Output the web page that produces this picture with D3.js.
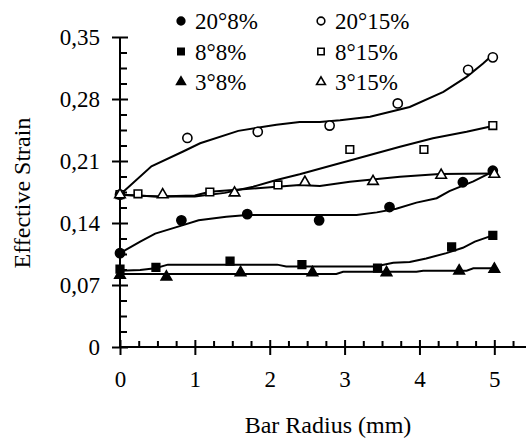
<!DOCTYPE html>
<html>
<head>
<meta charset="utf-8">
<script src="https://cdnjs.cloudflare.com/ajax/libs/d3/7.8.5/d3.min.js"></script>
</head>
<body style="margin:0; background:#fff">
<script>
// Width and height
var w = 526;
var h = 439;
var serif = "'Liberation Serif'";

// Series names and marker types
var seriesNames = ["20°8%", "20°15%", "8°8%", "8°15%", "3°8%", "3°15%"];
var seriesShape = ["circle", "circle", "square", "square", "triangle", "triangle"];
var seriesFilled = [true, false, true, false, true, false];

// Measured points [radius mm, strain]
var pts20_8 = [[0, 0.106], [0.82, 0.143], [1.70, 0.150], [2.66, 0.143], [3.60, 0.158], [4.58, 0.186], [4.98, 0.199]];
var pts20_15 = [[0, 0.172], [0.90, 0.236], [1.84, 0.243], [2.80, 0.250], [3.71, 0.275], [4.65, 0.313], [4.98, 0.327]];
var pts8_8 = [[0, 0.088], [0.48, 0.090], [1.47, 0.097], [2.43, 0.093], [3.44, 0.089], [4.43, 0.113], [4.98, 0.126]];
var pts8_15 = [[0, 0.172], [0.24, 0.173], [1.20, 0.175], [2.11, 0.183], [3.07, 0.223], [4.06, 0.223], [4.98, 0.250]];
var pts3_8 = [[0, 0.081], [0.62, 0.079], [1.61, 0.084], [2.57, 0.084], [3.56, 0.084], [4.53, 0.086], [5.0, 0.088]];
var pts3_15 = [[0, 0.172], [0.57, 0.172], [1.53, 0.174], [2.47, 0.186], [3.38, 0.187], [4.29, 0.194], [5.0, 0.195]];

// Trend lines
var fit20_8 = [[0, 0.106], [0.27, 0.119], [0.47, 0.128], [0.82, 0.137], [1.05, 0.143], [1.42, 0.147], [1.70, 0.149],
  [3.0, 0.149], [3.16, 0.149], [3.43, 0.152], [3.69, 0.156], [3.96, 0.163], [4.23, 0.168], [4.40, 0.176], [4.72, 0.187], [4.98, 0.198]];
var fit20_15 = [[0, 0.172], [0.42, 0.204], [0.85, 0.221], [1.07, 0.230], [1.58, 0.244], [2.09, 0.251], [2.40, 0.254],
  [2.67, 0.254], [2.94, 0.256], [3.34, 0.260], [3.87, 0.271], [4.32, 0.288], [4.63, 0.305], [4.85, 0.320], [4.98, 0.330]];
var fit8_8 = [[0, 0.086], [0.27, 0.087], [0.47, 0.089], [0.64, 0.093], [2.1, 0.093], [2.22, 0.091], [3.41, 0.091],
  [3.65, 0.095], [3.87, 0.096], [4.09, 0.100], [4.36, 0.106], [4.58, 0.112], [4.74, 0.119], [4.98, 0.126]];
var fit8_15 = [[0, 0.172], [0.5, 0.170], [1.0, 0.170], [1.4, 0.174], [1.78, 0.181], [2.09, 0.1885], [2.40, 0.195],
  [2.85, 0.2055], [3.29, 0.2156], [3.74, 0.226], [4.18, 0.2356], [4.63, 0.243], [4.98, 0.2495]];
var fit3_8 = [[0, 0.0824], [2.89, 0.0824], [2.98, 0.085], [3.96, 0.085], [4.05, 0.0861], [4.63, 0.0861], [4.72, 0.0888], [5.0, 0.0888]];
var fit3_15 = [[0, 0.172], [0.5, 0.170], [1.0, 0.171], [1.2, 0.1753], [1.51, 0.1772], [2.40, 0.183], [2.67, 0.1817],
  [3.07, 0.1866], [3.74, 0.1923], [4.27, 0.1953], [4.98, 0.196]];

var seriesPts = [pts20_8, pts20_15, pts8_8, pts8_15, pts3_8, pts3_15];
var seriesFit = [fit20_8, fit20_15, fit8_8, fit8_15, fit3_8, fit3_15];

// Ticks
var xMajor = [0, 1, 2, 3, 4, 5];
var xMinor = [0.25, 0.5, 0.75, 1.25, 1.5, 1.75, 2.25, 2.5, 2.75, 3.25, 3.5, 3.75, 4.25, 4.5, 4.75, 5.25];
var yMajor = [0, 0.07, 0.14, 0.21, 0.28, 0.35];
var yMinor = [0.0175, 0.035, 0.0525, 0.0875, 0.105, 0.1225, 0.1575, 0.175, 0.1925,
  0.2275, 0.245, 0.2625, 0.2975, 0.315, 0.3325];

var x = d3.scaleLinear().domain([0, 5.45]).range([120, 528]);
var y = d3.scaleLinear().domain([0, 0.35]).range([347, 37]);

var svg = d3.select("body")
  .append("svg")
  .attr("width", w)
  .attr("height", h);

var symbolType = { circle: d3.symbolCircle, square: d3.symbolSquare, triangle: d3.symbolTriangle };
var symbolSize = { circle: 66, square: 58, triangle: 48 };

// X axis
var gx = svg.append("g").attr("transform", "translate(0," + y(0) + ")");
gx.call(d3.axisBottom(x).tickValues(xMajor).tickSize(8).tickFormat(d3.format("d")));
gx.selectAll(".tick line").attr("y1", -7);
gx.append("g").call(d3.axisBottom(x).tickValues(xMinor).tickSize(-6).tickFormat(""))
  .select(".domain").remove();
gx.select(".domain").attr("d", "M" + x(0) + ",0H" + x(5.45));

// Y axis
var gy = svg.append("g").attr("transform", "translate(" + x(0) + ",0)");
gy.call(d3.axisLeft(y).tickValues(yMajor).tickSize(8)
  .tickFormat(function (d) { return d === 0 ? "0" : d.toFixed(2).replace(".", ","); }));
gy.selectAll(".tick line").attr("x1", 8);
gy.append("g").call(d3.axisLeft(y).tickValues(yMinor).tickSize(-7).tickFormat(""))
  .select(".domain").remove();
gy.select(".domain").attr("d", "M0," + y(0.35) + "V" + y(0));

svg.selectAll(".domain").attr("stroke-width", 2);
svg.selectAll(".tick line").attr("stroke-width", 2);

gx.selectAll(".tick text").attr("y", 24)
  .style("font-family", serif).style("font-size", "23px").attr("fill", "#000");
gy.selectAll(".tick text").attr("x", -20)
  .style("font-family", serif).style("font-size", "23px").attr("fill", "#000");

// Trend lines
var line = d3.line()
  .x(function (d) { return x(d[0]); })
  .y(function (d) { return y(d[1]); });

svg.append("g").selectAll("path")
  .data(seriesFit)
  .enter()
  .append("path")
  .attr("d", line)
  .attr("fill", "none")
  .attr("stroke", "#000")
  .attr("stroke-width", 2);

// Markers
seriesPts.forEach(function (pts, i) {
  svg.append("g").selectAll("path")
    .data(pts)
    .enter()
    .append("path")
    .attr("transform", function (d) { return "translate(" + x(d[0]) + "," + y(d[1]) + ")"; })
    .attr("d", d3.symbol().type(symbolType[seriesShape[i]]).size(symbolSize[seriesShape[i]]))
    .attr("fill", seriesFilled[i] ? "#000" : "#fff")
    .attr("stroke", "#000")
    .attr("stroke-width", 1.6);
});

// Legend
var legend = svg.append("g").selectAll("g")
  .data(seriesNames)
  .enter()
  .append("g")
  .attr("transform", function (d, i) {
    return "translate(" + (i % 2 === 0 ? 181 : 321) + "," + (21 + Math.floor(i / 2) * 30.5) + ")";
  });

legend.append("path")
  .attr("d", function (d, i) { return d3.symbol().type(symbolType[seriesShape[i]]).size(symbolSize[seriesShape[i]] * 0.7)(); })
  .attr("fill", function (d, i) { return seriesFilled[i] ? "#000" : "#fff"; })
  .attr("stroke", "#000")
  .attr("stroke-width", 1.6);

legend.append("text")
  .attr("x", 14)
  .attr("dy", "0.35em")
  .style("font-family", serif)
  .style("font-size", "23px")
  .text(function (d) { return d; });

// Axis titles
svg.append("text")
  .attr("transform", "translate(30,193) rotate(-90)")
  .attr("text-anchor", "middle")
  .style("font-family", serif)
  .style("font-size", "24px")
  .text("Effective Strain");

svg.append("text")
  .attr("x", 328)
  .attr("y", 433)
  .attr("text-anchor", "middle")
  .style("font-family", serif)
  .style("font-size", "24px")
  .text("Bar Radius (mm)");
</script>
</body>
</html>
